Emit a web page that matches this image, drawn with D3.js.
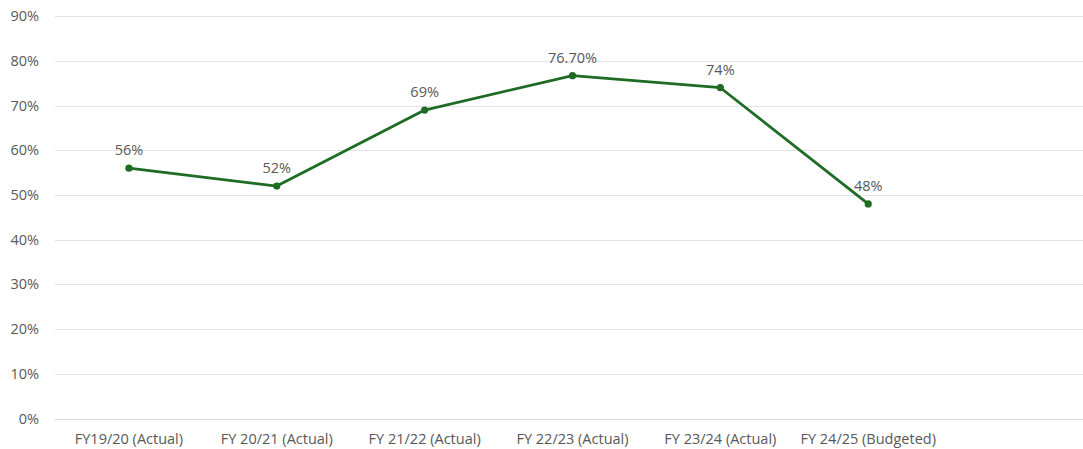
<!DOCTYPE html>
<html>
<head>
<meta charset="utf-8">
<script src="https://cdn.jsdelivr.net/npm/d3@7"></script>
<style>
  body { margin: 0; background: #fff; }
  svg text { font-family: "Open Sans", sans-serif; fill: #595959; }
</style>
</head>
<body>
<svg id="chart" width="1083" height="449"></svg>
<script>
var categories = ['FY19/20 (Actual)', 'FY 20/21 (Actual)', 'FY 21/22 (Actual)',
                  'FY 22/23 (Actual)', 'FY 23/24 (Actual)', 'FY 24/25 (Budgeted)'];
var values = [56, 52, 69, 76.7, 74, 48];
var valueLabels = ['56%', '52%', '69%', '76.70%', '74%', '48%'];
var yTicks = [0, 10, 20, 30, 40, 50, 60, 70, 80, 90];

var svg = d3.select('#chart');

// one empty slot on the right, like the original
var slots = categories.concat(['']);
var x = d3.scalePoint()
    .domain(slots)
    .range([55, 1090])
    .padding(0.5);

var y = d3.scaleLinear()
    .domain([0, 90])
    .range([418.5, 16.2]);

svg.append('g')
  .selectAll('line')
  .data(yTicks)
  .enter()
  .append('line')
    .attr('x1', 55)
    .attr('x2', 1083)
    .attr('y1', function(d) { return Math.round(y(d)) + 0.5; })
    .attr('y2', function(d) { return Math.round(y(d)) + 0.5; })
    .attr('stroke', function(d) { return d === 0 ? '#d9d9d9' : '#e3e3e3'; })
    .attr('stroke-width', 1);

svg.append('g')
  .selectAll('text')
  .data(yTicks)
  .enter()
  .append('text')
    .attr('x', 39)
    .attr('y', function(d) { return y(d); })
    .attr('dy', '0.35em')
    .attr('text-anchor', 'end')
    .style('font-size', '14.5px')
    .text(function(d) { return d + '%'; });

svg.append('g')
  .selectAll('text')
  .data(categories)
  .enter()
  .append('text')
    .attr('x', function(d) { return x(d); })
    .attr('y', 439)
    .attr('dy', '0.35em')
    .attr('text-anchor', 'middle')
    .style('font-size', '14.5px')
    .text(function(d) { return d; });

var points = categories.map(function(c, i) { return { cat: c, v: values[i], label: valueLabels[i] }; });

var line = d3.line()
    .x(function(d) { return x(d.cat); })
    .y(function(d) { return y(d.v); });

svg.append('path')
    .datum(points)
    .attr('d', line)
    .attr('fill', 'none')
    .attr('stroke', '#1e6b24')
    .attr('stroke-width', 2.75)
    .attr('stroke-linejoin', 'round');

svg.append('g')
  .selectAll('circle')
  .data(points)
  .enter()
  .append('circle')
    .attr('cx', function(d) { return x(d.cat); })
    .attr('cy', function(d) { return y(d.v); })
    .attr('r', 3.6)
    .attr('fill', '#1e6b24');

svg.append('g')
  .selectAll('text')
  .data(points)
  .enter()
  .append('text')
    .attr('x', function(d) { return x(d.cat); })
    .attr('y', function(d) { return y(d.v) - 18; })
    .attr('dy', '0.35em')
    .attr('text-anchor', 'middle')
    .style('font-size', '14.5px')
    .text(function(d) { return d.label; });
</script>
</body>
</html>
